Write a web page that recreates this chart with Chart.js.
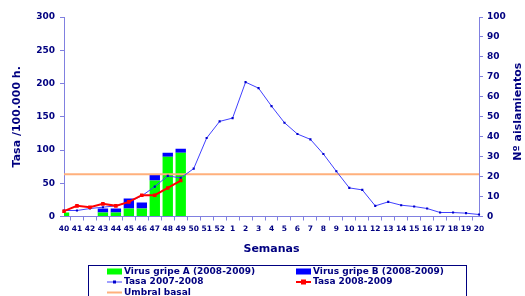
<!DOCTYPE html>
<html>
<head>
<meta charset="utf-8">
<script src="https://cdn.jsdelivr.net/npm/chart.js@4"></script>
<style>
  html, body { margin: 0; padding: 0; background: #fff; }
  #wrap { width: 525px; height: 296px; }
</style>
</head>
<body>
<div id="wrap"><canvas id="gripeChart" width="525" height="296"></canvas></div>
<script>
// Semanas 40/2008 .. 20/2009
const semanas = ['40','41','42','43','44','45','46','47','48','49','50','51','52',
  '1','2','3','4','5','6','7','8','9','10','11','12','13','14','15','16','17','18','19','20'];

// Nº aislamientos (eje derecho)
const virusA = [2, 0, 0, 2, 2, 4, 4, 18, 30, 32];
const virusB = [0, 0, 0, 2, 2, 5, 3, 3, 2, 2];

// Tasa /100.000 h. (eje izquierdo)
const tasa0708 = [9, 9, 12, 14, 16, 22, 31, 45, 61, 58, 72, 118, 143, 148, 202, 193, 166,
  141, 124, 116, 94, 68, 43, 40, 16, 22, 17, 15, 12, 6, 6, 5, 3];
const tasa0809 = [8, 16, 14, 19, 16, 22, 32, 32, 43, 54];
const umbralBasal = 63.6;

const navy = '#000080';
const axisColor = '#8080e0';
const fam = 'DejaVu Sans';

// legend drawn inside a framed box under the axis,
// plus the right axis title which reads bottom-to-top
const boxLegend = {
    id: 'boxLegend',
    afterDraw(chart) {
        const c = chart.ctx;
        const cols = [107, 296];
        const rows = [271.5, 282, 292.5];
        c.save();
        c.strokeStyle = navy;
        c.lineWidth = 1;
        c.strokeRect(88.5, 265.5, 378, 40);
        c.font = 'bold 9px "' + fam + '"';
        c.textBaseline = 'middle';
        chart.data.datasets.forEach((ds, i) => {
            const x = cols[i % 2];
            const y = rows[Math.floor(i / 2)];
            if (ds.type === 'bar') {
                c.fillStyle = ds.backgroundColor;
                c.fillRect(x, y - 3, 15, 6);
            } else {
                c.strokeStyle = ds.borderColor;
                c.lineWidth = ds.borderWidth;
                c.beginPath();
                c.moveTo(x, y);
                c.lineTo(x + 15, y);
                c.stroke();
                if (ds.pointRadius > 0) {
                    const r = ds.pointRadius;
                    c.fillStyle = ds.pointBackgroundColor;
                    c.fillRect(x + 7.5 - r, y - r, r * 2, r * 2);
                }
            }
            c.fillStyle = navy;
            c.fillText(ds.label, x + 17, y);
        });

        // right axis title
        const y1 = chart.scales.y1;
        c.translate(518, (y1.top + y1.bottom) / 2 - 5);
        c.rotate(-Math.PI / 2);
        c.font = 'bold 11px "' + fam + '"';
        c.textAlign = 'center';
        c.fillStyle = navy;
        c.fillText('Nº aislamientos', 0, 0);
        c.restore();
    }
};

const ctx = document.getElementById('gripeChart').getContext('2d');
new Chart(ctx, {
    data: {
        labels: semanas,
        datasets: [
            {
                type: 'bar', label: 'Virus gripe A (2008-2009)', data: virusA,
                backgroundColor: '#00ff00', yAxisID: 'y1', stack: 'virus', order: 3,
                barPercentage: 0.8, categoryPercentage: 1
            },
            {
                type: 'bar', label: 'Virus gripe B (2008-2009)', data: virusB,
                backgroundColor: '#0000ff', yAxisID: 'y1', stack: 'virus', order: 3,
                barPercentage: 0.8, categoryPercentage: 1
            },
            {
                type: 'line', label: 'Tasa 2007-2008', data: tasa0708, yAxisID: 'y',
                borderColor: '#4040ff', borderWidth: 1, tension: 0,
                pointStyle: 'rect', pointRadius: 1.5, pointBackgroundColor: '#0000cc',
                pointBorderWidth: 0, order: 1
            },
            {
                type: 'line', label: 'Tasa 2008-2009', data: tasa0809, yAxisID: 'y',
                borderColor: '#ff0000', borderWidth: 2, tension: 0,
                pointStyle: 'rect', pointRadius: 2.5, pointBackgroundColor: '#ff0000',
                pointBorderWidth: 0, order: 0
            },
            {
                type: 'line', label: 'Umbral basal', data: semanas.map(() => umbralBasal), yAxisID: 'y',
                borderColor: '#ffb07c', borderWidth: 2, pointRadius: 0, order: 2
            }
        ]
    },
    options: {
        responsive: false,
        animation: false,
        layout: { padding: { left: 0, right: 0, top: 17, bottom: 39.5 } },
        plugins: { legend: { display: false }, tooltip: { enabled: false } },
        scales: {
            x: {
                type: 'category', offset: false, stacked: true,
                afterFit: s => { s.height = 40; },
                grid: { drawOnChartArea: false, drawTicks: true, tickLength: 4, color: axisColor },
                border: { color: axisColor, width: 1 },
                ticks: { color: navy, font: { family: fam, weight: 'bold', size: 7.5 },
                    padding: 4, autoSkip: false, maxRotation: 0 },
                title: { display: true, text: 'Semanas', color: navy,
                    font: { family: fam, weight: 'bold', size: 11 }, padding: { top: 0, bottom: 1 } }
            },
            y: {
                position: 'left', min: 0, max: 300,
                afterFit: s => { s.width = 64; },
                grid: { drawOnChartArea: false, drawTicks: true, tickLength: 4, color: axisColor },
                border: { color: axisColor, width: 1 },
                ticks: { stepSize: 50, color: navy, font: { family: fam, weight: 'bold', size: 9 }, padding: 5 },
                title: { display: true, text: 'Tasa /100.000 h.', color: navy,
                    font: { family: fam, weight: 'bold', size: 11 }, padding: { top: 11, bottom: 0 } }
            },
            y1: {
                position: 'right', min: 0, max: 100, stacked: true,
                afterFit: s => { s.width = 46; },
                grid: { drawOnChartArea: false, drawTicks: true, tickLength: 4, color: axisColor },
                border: { color: axisColor, width: 1 },
                ticks: { stepSize: 10, color: navy, font: { family: fam, weight: 'bold', size: 9 }, padding: 4 },
                title: { display: false }
            }
        }
    },
    plugins: [boxLegend]
});
</script>
</body>
</html>
